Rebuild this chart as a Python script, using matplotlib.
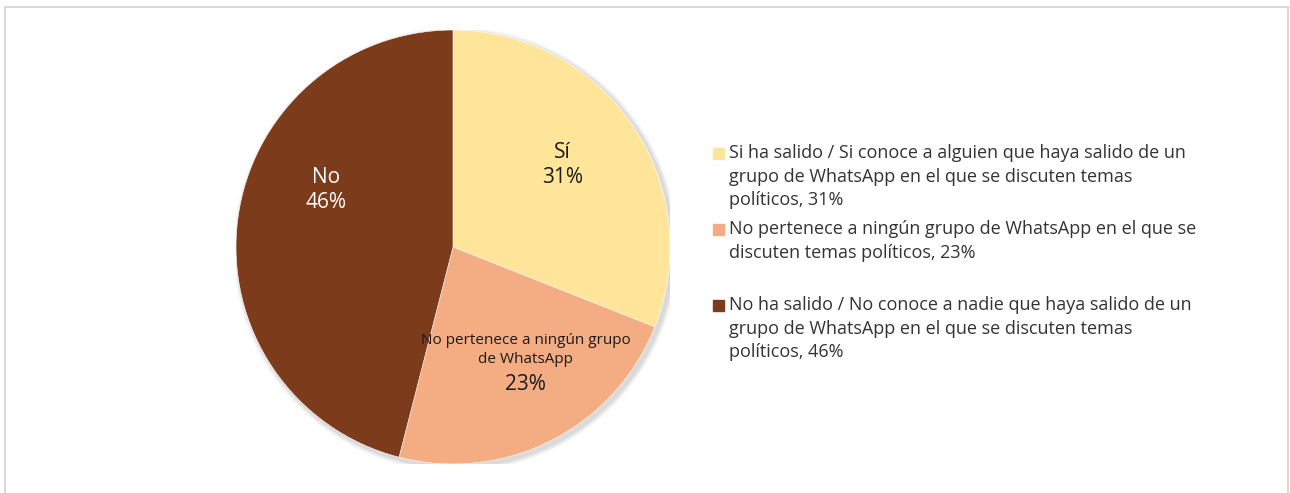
import matplotlib.pyplot as plt
import matplotlib.patches as mpatches
import numpy as np

plt.rcParams['font.family'] = ['Open Sans', 'DejaVu Sans']

# datos
categorias = ['Sí', 'No pertenece a ningún grupo\nde WhatsApp', 'No']
valores = [31, 23, 46]
colores = ['#FFE599', '#F4AD82', '#7C3B1B']
colores_texto = ['#1a1a1a', '#1a1a1a', 'white']
leyenda = [
    'Si ha salido / Si conoce a alguien que haya salido de un\ngrupo de WhatsApp en el que se discuten temas\npolíticos, 31%',
    'No pertenece a ningún grupo de WhatsApp en el que se\ndiscuten temas políticos, 23%',
    'No ha salido / No conoce a nadie que haya salido de un\ngrupo de WhatsApp en el que se discuten temas\npolíticos, 46%',
]

W, H = 1290, 493
fig = plt.figure(figsize=(W / 100, H / 100), dpi=100)

# marco gris claro
fig.patches.append(mpatches.Rectangle((5 / W, -0.05), (1288 - 5) / W, (H - 7) / H + 0.05,
                                      transform=fig.transFigure, fill=False,
                                      edgecolor='#d9d9d9', linewidth=1.5))

cx, cy, r = 453, 247, 217
ax = fig.add_axes([(cx - r) / W, (H - cy - r) / H, 2 * r / W, 2 * r / H])

# sombra suave
for i, a in enumerate([0.06, 0.05, 0.04]):
    ax.add_patch(mpatches.Circle((0.012, -0.012), 1.0 + 0.008 * (i + 1), color='black',
                                 alpha=a, zorder=0, linewidth=0))

wedges, _ = ax.pie(valores, colors=colores, startangle=90, counterclock=False,
                   radius=1.0, wedgeprops=dict(edgecolor='white', linewidth=0.4))
ax.set_xlim(-1, 1)
ax.set_ylim(-1, 1)
ax.set_aspect('equal')
ax.axis('off')

# etiquetas dentro de las porciones (ajuste angular como en el original)
ajuste = [2.5, 4.5, -17]
dist = [0.63, 0.64, 0.64]
for w, cat, v, c, da, d in zip(wedges, categorias, valores, colores_texto, ajuste, dist):
    ang = np.deg2rad((w.theta1 + w.theta2) / 2 + da)
    x, y = d * np.cos(ang), d * np.sin(ang)
    if '\n' in cat:
        ax.text(x, y + 0.07, cat, ha='center', va='center', fontsize=11, color=c,
                linespacing=1.4)
        ax.text(x, y - 0.09, f'{v}%', ha='center', va='center', fontsize=15, color=c)
    else:
        ax.text(x, y, f'{cat}\n{v}%', ha='center', va='center', fontsize=15, color=c,
                linespacing=1.25)

# leyenda manual
y_inicio = [153, 229, 305]
paso = 23.7
for col, texto, y0 in zip(colores, leyenda, y_inicio):
    fig.patches.append(mpatches.Rectangle((713 / W, 1 - (y0 + 5.5) / H), 11 / W, 11 / H,
                                          transform=fig.transFigure, color=col))
    for k, linea in enumerate(texto.split('\n')):
        fig.text(729 / W, 1 - (y0 + k * paso) / H, linea, ha='left', va='center',
                 fontsize=13, color='#333333')

fig.savefig('out.png', dpi=100)
